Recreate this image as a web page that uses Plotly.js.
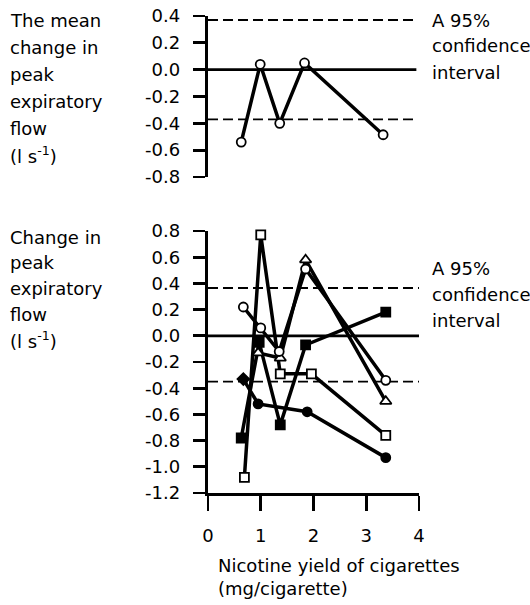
<!DOCTYPE html>
<html>
<head>
<meta charset="utf-8">
<script src="https://cdn.plot.ly/plotly-3.0.1.min.js"></script>
<style>html,body{margin:0;padding:0;background:#fff;}#chart{width:530px;height:605px;}</style>
</head>
<body>
<div id="chart"></div>
<script>
// ---- data ----
var meanX = [0.63, 0.99, 1.36, 1.83, 3.32];
var meanY = [-0.54, 0.04, -0.40, 0.05, -0.485];
var meanCI = [0.37, -0.37];

var openCircleX = [0.67, 1.0, 1.35, 1.85, 3.37];
var openCircleY = [0.22, 0.06, -0.12, 0.51, -0.34];
var openTriX = [0.95, 1.37, 1.85, 3.37];
var openTriY = [-0.13, -0.17, 0.58, -0.50];
var openSqX = [0.69, 1.0, 1.37, 1.96, 3.37];
var openSqY = [-1.08, 0.77, -0.29, -0.29, -0.76];
var filledSqX = [0.63, 0.97, 1.37, 1.85, 3.37];
var filledSqY = [-0.78, -0.05, -0.68, -0.07, 0.18];
var filledCircX = [0.67, 0.95, 1.88, 3.37];
var filledCircY = [-0.33, -0.52, -0.58, -0.93];
var indivCI = [0.365, -0.35];

var topTicks = [0.4, 0.2, 0.0, -0.2, -0.4, -0.6, -0.8];
var topTickText = ["0.4", "0.2", "0.0", "-0.2", "-0.4", "-0.6", "-0.8"];
var botTicks = [0.8, 0.6, 0.4, 0.2, 0.0, -0.2, -0.4, -0.6, -0.8, -1.0, -1.2];
var botTickText = ["0.8", "0.6", "0.4", "0.2", "0.0", "-0.2", "-0.4", "-0.6", "-0.8", "-1.0", "-1.2"];
var xTicks = [0, 1, 2, 3, 4];
var xTickText = ["0", "1", "2", "3", "4"];

var topLabel = ["The mean", "change in", "peak", "expiratory", "flow", "(l s<sup>-1</sup>)"];
var botLabel = ["Change in", "peak", "expiratory", "flow", "(l s<sup>-1</sup>)"];
var ciLabel = ["A 95%", "confidence", "interval"];
var xTitle = ["Nicotine yield of cigarettes", "(mg/cigarette)"];

// ---- layout helpers ----
var W = 530, H = 605;
var L = 208, R = 419, T = 16, B = 493;
function px(x) { return (x - L) / (R - L); }
function py(y) { return (B - y) / (B - T); }
var FONT = {family: "DejaVu Sans", size: 18, color: "#000"};

function lineTrace(x, y, yax, symbol, fill, size) {
  return {
    x: x, y: y, xaxis: yax === 'y2' ? 'x2' : 'x', yaxis: yax,
    type: 'scatter', mode: 'lines+markers', cliponaxis: false,
    line: {color: '#000', width: 3.5},
    marker: {symbol: symbol, size: size || 9, color: fill, line: {color: '#000', width: 1.8}},
    hoverinfo: 'skip'
  };
}

var traces = [
  lineTrace(filledCircX, filledCircY, 'y', ['diamond', 'circle', 'circle', 'circle'], '#000', 9),
  lineTrace(filledSqX, filledSqY, 'y', 'square', '#000', 9),
  lineTrace(openSqX, openSqY, 'y', 'square', '#fff', 9),
  lineTrace(openTriX, openTriY, 'y', 'triangle-up', '#fff', 10),
  lineTrace(openCircleX, openCircleY, 'y', 'circle', '#fff', 9),
  lineTrace(meanX, meanY, 'y2', 'circle', '#fff', 9)
];

var shapes = [];
shapes.push({type: 'line', xref: 'x', yref: 'y2', x0: 0, x1: 3.95, y0: 0, y1: 0, line: {color: '#000', width: 2.8}, layer: 'below'});
meanCI.forEach(function (v) {
  shapes.push({type: 'line', xref: 'x', yref: 'y2', x0: 0, x1: 3.95, y0: v, y1: v, line: {color: '#000', width: 1.8, dash: '10px,5px'}, layer: 'below'});
});
shapes.push({type: 'line', xref: 'x', yref: 'y', x0: 0, x1: 4.02, y0: 0, y1: 0, line: {color: '#000', width: 2.8}, layer: 'below'});
indivCI.forEach(function (v) {
  shapes.push({type: 'line', xref: 'x', yref: 'y', x0: 0, x1: 4.0, y0: v, y1: v, line: {color: '#000', width: 1.8, dash: '10px,5px'}, layer: 'below'});
});

var ann = [];
function addLines(lines, xPix, yStart, step) {
  lines.forEach(function (t, i) {
    ann.push({text: t, xref: 'paper', yref: 'paper', x: px(xPix), y: py(yStart + i * step),
      xanchor: 'left', yanchor: 'middle', showarrow: false, align: 'left', font: FONT});
  });
}
addLines(topLabel, 8, 21, 26.8);
addLines(botLabel, 8, 237, 25.8);
addLines(ciLabel, 430, 20, 26);
addLines(ciLabel, 430, 268, 26);
addLines(xTitle, 216, 565, 23);

var axisCommon = {
  showgrid: false, zeroline: false, showline: true, linecolor: '#000', linewidth: 3.2,
  ticks: 'outside', ticklen: 12, tickwidth: 2.8, tickcolor: '#000',
  tickfont: FONT, fixedrange: true
};

var layout = {
  width: W, height: H,
  margin: {l: L, r: W - R, t: T, b: H - B, pad: 0},
  paper_bgcolor: '#fff', plot_bgcolor: '#fff',
  showlegend: false,
  xaxis: Object.assign({}, axisCommon, {
    range: [0, 4], domain: [0, 1], anchor: 'y',
    tickmode: 'array', tickvals: xTicks, ticktext: xTickText,
    ticklen: 15, ticklabelstandoff: 9
  }),
  xaxis2: {range: [0, 4], domain: [0, 1], anchor: 'y2', visible: false, fixedrange: true},
  yaxis: Object.assign({}, axisCommon, {
    range: [-1.2, 0.8], domain: [0, (B - 231) / (B - T)], anchor: 'x',
    tickmode: 'array', tickvals: botTicks, ticktext: botTickText, ticklabelstandoff: 9
  }),
  yaxis2: Object.assign({}, axisCommon, {
    range: [-0.8, 0.4], domain: [(B - 177) / (B - T), 1], anchor: 'x2',
    tickmode: 'array', tickvals: topTicks, ticktext: topTickText, ticklabelstandoff: 9
  }),
  shapes: shapes,
  annotations: ann,
  font: FONT
};

Plotly.newPlot('chart', traces, layout, {displayModeBar: false, staticPlot: true});
</script>
</body>
</html>
